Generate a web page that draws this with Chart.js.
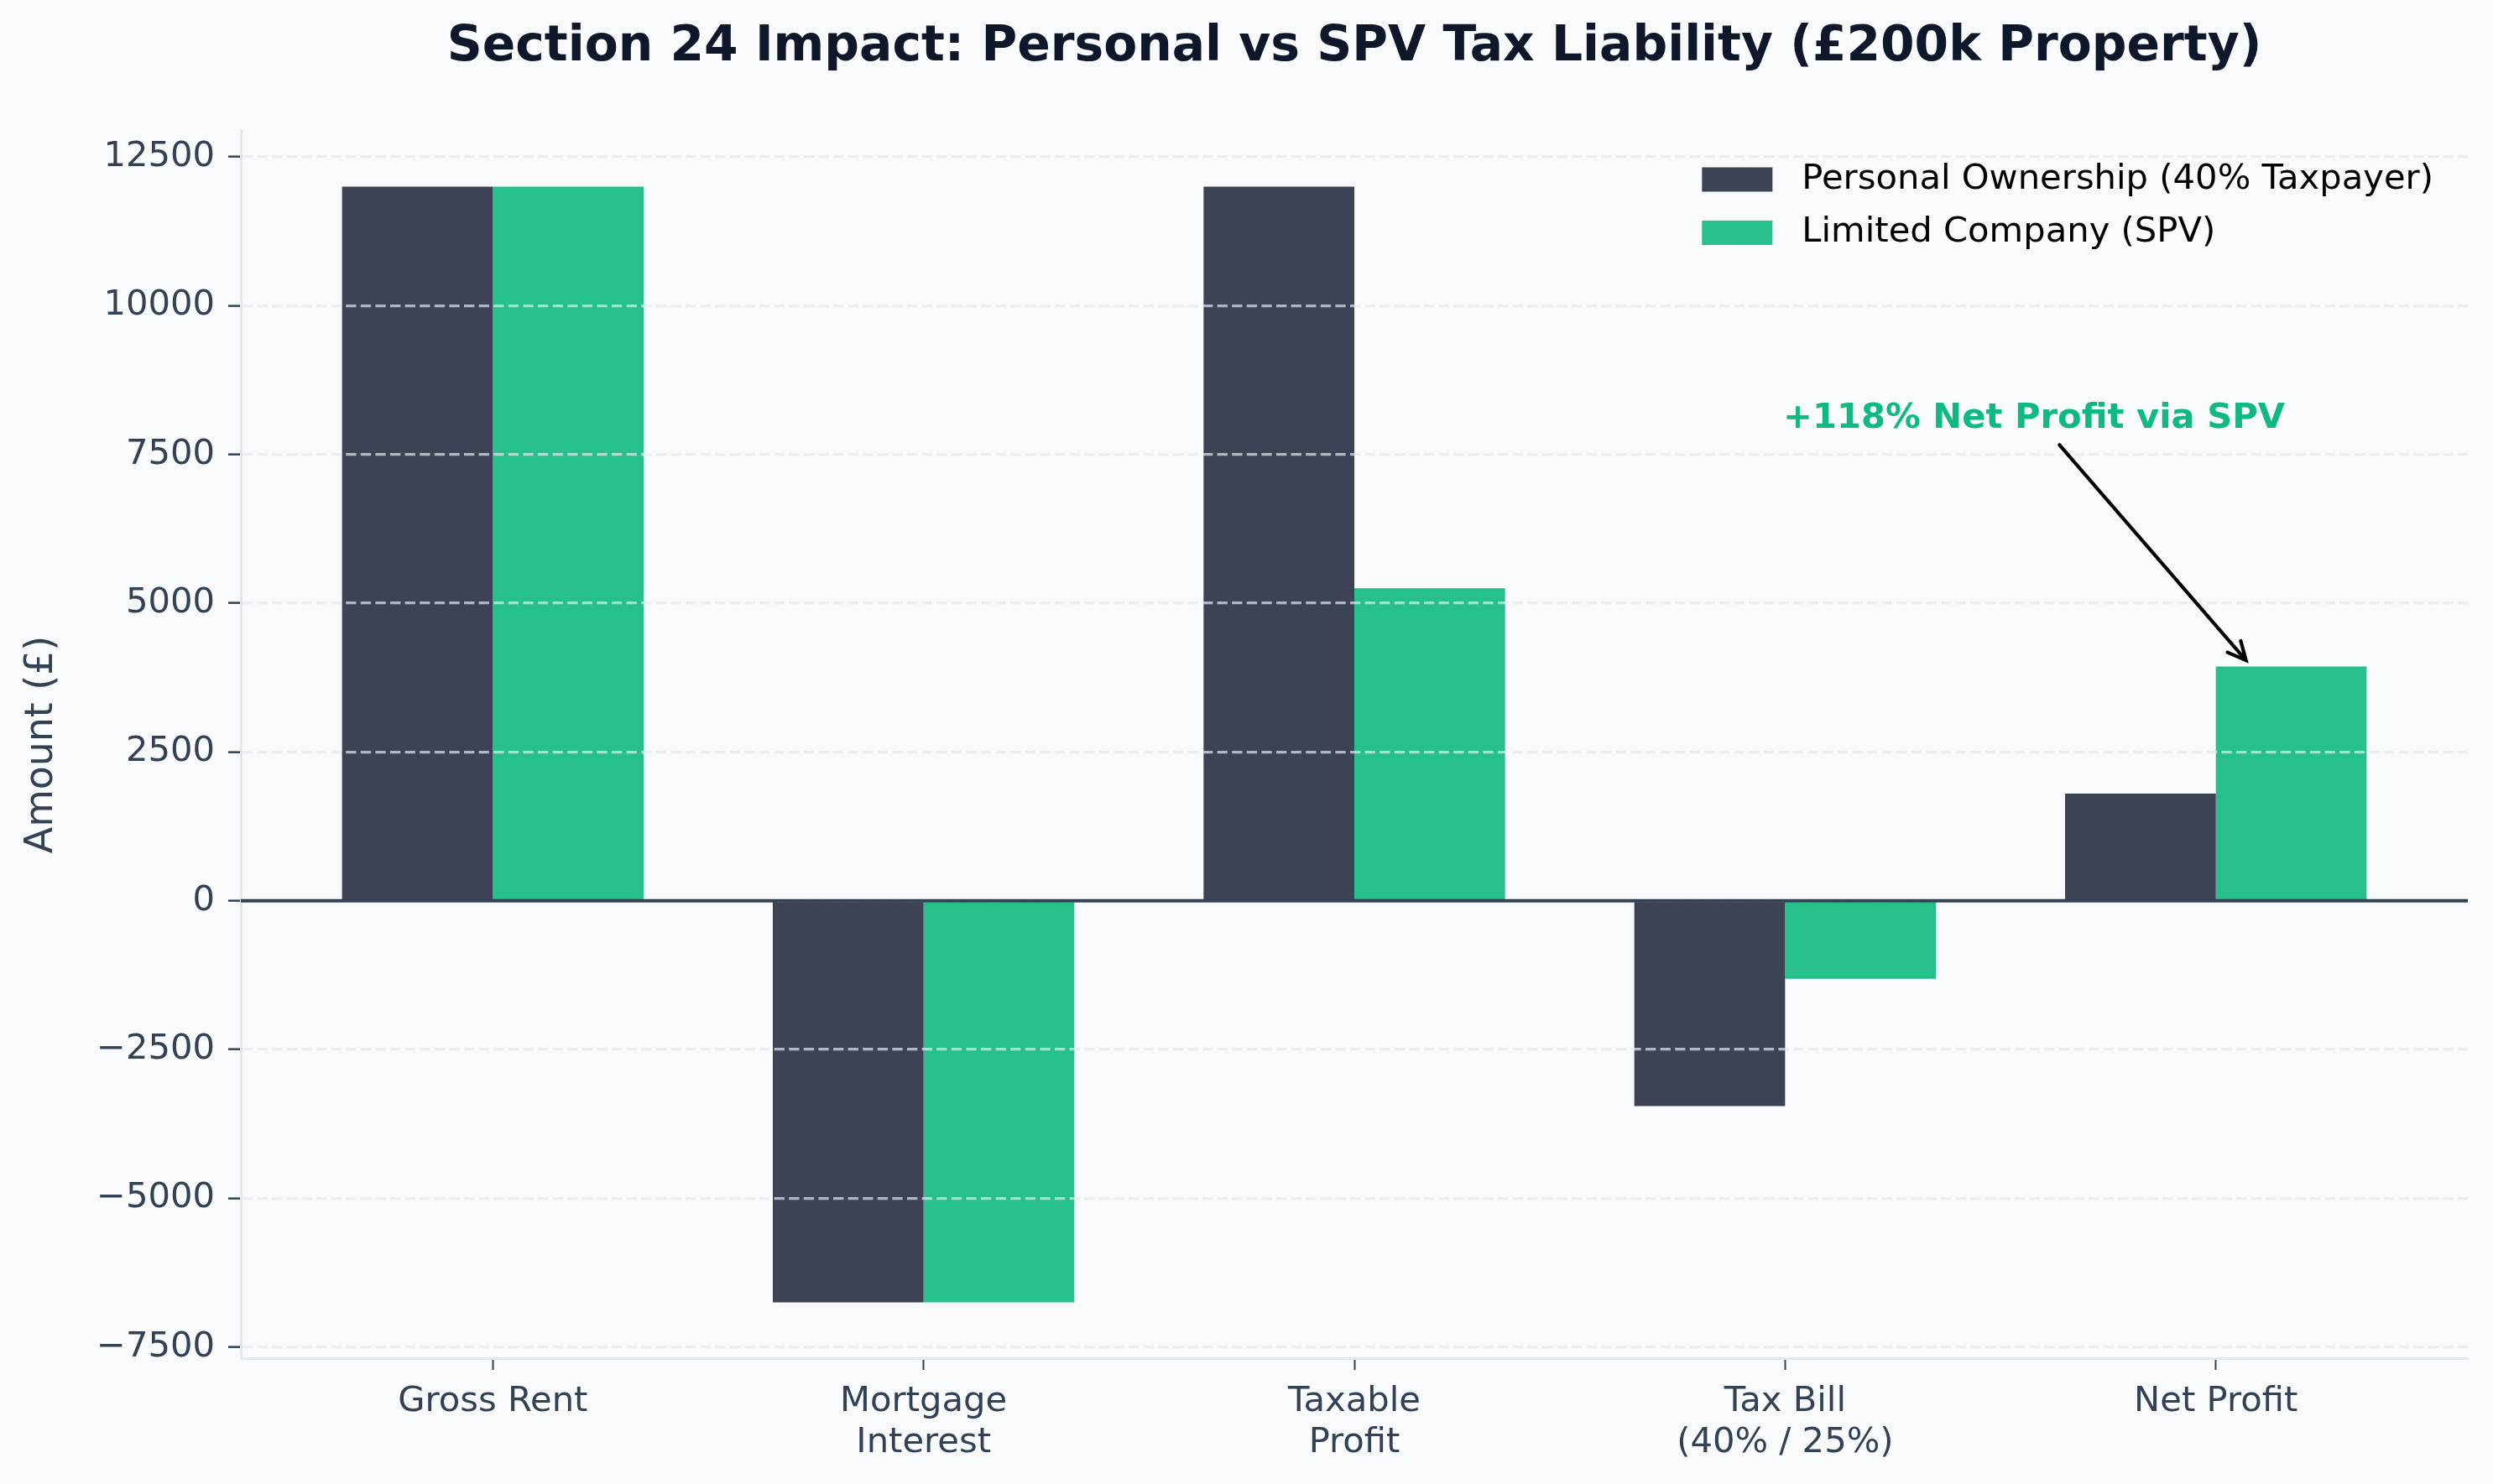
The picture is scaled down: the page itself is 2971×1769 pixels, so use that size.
<!DOCTYPE html>
<html>
<head>
<meta charset="utf-8">
<title>Section 24 Impact: Personal vs SPV Tax Liability</title>
<script src="https://cdn.jsdelivr.net/npm/chart.js@4.4.1/dist/chart.umd.min.js"></script>
<style>
  html, body { margin: 0; padding: 0; background: #f8fafc; }
  #wrap { width: 2971px; height: 1769px; }
</style>
</head>
<body>
<div id="wrap"><canvas id="chart"></canvas></div>
<script>
// Chart data
const categories = [['Gross Rent'], ['Mortgage', 'Interest'], ['Taxable', 'Profit'], ['Tax Bill', '(40% / 25%)'], ['Net Profit']];
const personalValues = [12000, -6750, 12000, -3450, 1800];
const spvValues = [12000, -6750, 5250, -1312.5, 3937.5];
const seriesLabels = ['Personal Ownership (40% Taxpayer)', 'Limited Company (SPV)'];
const yTicks = [-7500, -5000, -2500, 0, 2500, 5000, 7500, 10000, 12500];

// Annotation (data coordinates)
const annotationText = '+118% Net Profit via SPV';
const annotationTextAt = [3.578, 8100];
const annotationArrowFrom = [3.637, 7660];
const annotationArrowTo = [4.07, 4040];

const colors = ['#3d4354', '#27bf8c'];
const textColor = '#334155';
const gridColor = 'rgba(226, 232, 240, 0.7)';
const spineColor = '#e2e8f0';

Chart.defaults.font.family = "'DejaVu Sans', sans-serif";

function toPoints(values) {
    return values.map((v, i) => ({ x: i, y: v }));
}

function fmtTick(v) {
    return v < 0 ? '\u2212' + Math.abs(v) : String(v);
}

// Draws the zero line, the annotation and the legend inside the plot area
const overlayPlugin = {
    id: 'overlay',
    afterDraw(chart) {
        const { ctx, chartArea, scales: { x, y } } = chart;

        // zero line
        const y0 = y.getPixelForValue(0);
        ctx.save();
        ctx.strokeStyle = '#334155';
        ctx.lineWidth = 4;
        ctx.beginPath();
        ctx.moveTo(chartArea.left, y0);
        ctx.lineTo(chartArea.right, y0);
        ctx.stroke();

        // annotation text
        ctx.font = "bold 41.7px 'DejaVu Sans'";
        ctx.fillStyle = '#10b981';
        ctx.textAlign = 'center';
        ctx.textBaseline = 'middle';
        ctx.fillText(annotationText, x.getPixelForValue(annotationTextAt[0]), y.getPixelForValue(annotationTextAt[1]));

        // annotation arrow
        const x1 = x.getPixelForValue(annotationArrowFrom[0]);
        const y1 = y.getPixelForValue(annotationArrowFrom[1]);
        const x2 = x.getPixelForValue(annotationArrowTo[0]);
        const y2 = y.getPixelForValue(annotationArrowTo[1]);
        const ang = Math.atan2(y2 - y1, x2 - x1);
        const head = 24;
        ctx.strokeStyle = '#000000';
        ctx.lineWidth = 4.2;
        ctx.lineCap = 'round';
        ctx.beginPath();
        ctx.moveTo(x1, y1);
        ctx.lineTo(x2, y2);
        ctx.moveTo(x2 - head * Math.cos(ang - 0.45), y2 - head * Math.sin(ang - 0.45));
        ctx.lineTo(x2, y2);
        ctx.lineTo(x2 - head * Math.cos(ang + 0.45), y2 - head * Math.sin(ang + 0.45));
        ctx.stroke();

        // legend (top right, inside the axes)
        ctx.font = "41.7px 'DejaVu Sans'";
        ctx.textAlign = 'left';
        const textW = Math.max(...seriesLabels.map(l => ctx.measureText(l).width));
        const textX = chartArea.right - 41 - textW;
        const boxX = textX - 35 - 84;
        seriesLabels.forEach((label, i) => {
            const cy = chartArea.top + 58 + i * 63.5;
            ctx.fillStyle = colors[i];
            ctx.fillRect(boxX, cy - 14.5, 84, 29);
            ctx.fillStyle = '#000000';
            ctx.fillText(label, textX, cy);
        });
        ctx.restore();
    }
};

const bgPlugin = {
    id: 'bg',
    beforeDraw(chart) {
        const { ctx, width, height } = chart;
        ctx.save();
        ctx.fillStyle = '#f8fafc';
        ctx.fillRect(0, 0, width, height);
        ctx.restore();
    }
};

const ctx = document.getElementById('chart');
new Chart(ctx, {
    type: 'bar',
    data: {
        datasets: [
            {
                label: seriesLabels[0],
                data: toPoints(personalValues),
                backgroundColor: colors[0],
                borderWidth: 0
            },
            {
                label: seriesLabels[1],
                data: toPoints(spvValues),
                backgroundColor: colors[1],
                borderWidth: 0
            }
        ]
    },
    options: {
        responsive: true,
        maintainAspectRatio: false,
        devicePixelRatio: 1,
        animation: false,
        layout: { padding: { left: 0, right: 30, top: 0, bottom: 0 } },
        datasets: {
            bar: { categoryPercentage: 0.7, barPercentage: 1.0, grouped: true }
        },
        scales: {
            x: {
                type: 'linear',
                min: -0.585,
                max: 4.585,
                offset: false,
                afterBuildTicks: scale => {
                    scale.ticks = categories.map((_, i) => ({ value: i }));
                },
                afterFit: scale => { scale.height = 150; },
                ticks: {
                    color: textColor,
                    font: { size: 41.7, lineHeight: 1.17 },
                    padding: 14,
                    maxRotation: 0,
                    autoSkip: false,
                    callback: v => categories[v]
                },
                grid: {
                    offset: false,
                    drawOnChartArea: false,
                    drawTicks: true,
                    tickLength: 14,
                    tickWidth: 2,
                    tickColor: textColor
                },
                border: { display: true, color: spineColor, width: 3 }
            },
            y: {
                type: 'linear',
                min: -7687.5,
                max: 12937.5,
                afterBuildTicks: scale => {
                    scale.ticks = yTicks.map(v => ({ value: v }));
                },
                afterFit: scale => { scale.width = 287; },
                ticks: {
                    color: textColor,
                    font: { size: 41.7 },
                    padding: 16,
                    callback: v => fmtTick(v)
                },
                grid: {
                    z: 1,
                    color: gridColor,
                    lineWidth: 3.3,
                    drawTicks: true,
                    tickLength: 15,
                    tickWidth: 2.5,
                    tickColor: textColor,
                    tickBorderDash: []
                },
                border: { display: true, z: 1, color: spineColor, width: 3, dash: [12.3, 5.3] },
                title: {
                    display: true,
                    text: 'Amount (£)',
                    color: textColor,
                    font: { size: 45.8, lineHeight: 1.2 },
                    padding: { top: 23, bottom: 0 }
                }
            }
        },
        plugins: {
            legend: { display: false },
            tooltip: { enabled: false },
            title: {
                display: true,
                fullSize: false,
                text: 'Section 24 Impact: Personal vs SPV Tax Liability (£200k Property)',
                color: '#0f172a',
                font: { size: 58.3, weight: 'bold', lineHeight: 1.2 },
                padding: { top: 22, bottom: 64 }
            }
        }
    },
    plugins: [bgPlugin, overlayPlugin]
});
</script>
</body>
</html>
